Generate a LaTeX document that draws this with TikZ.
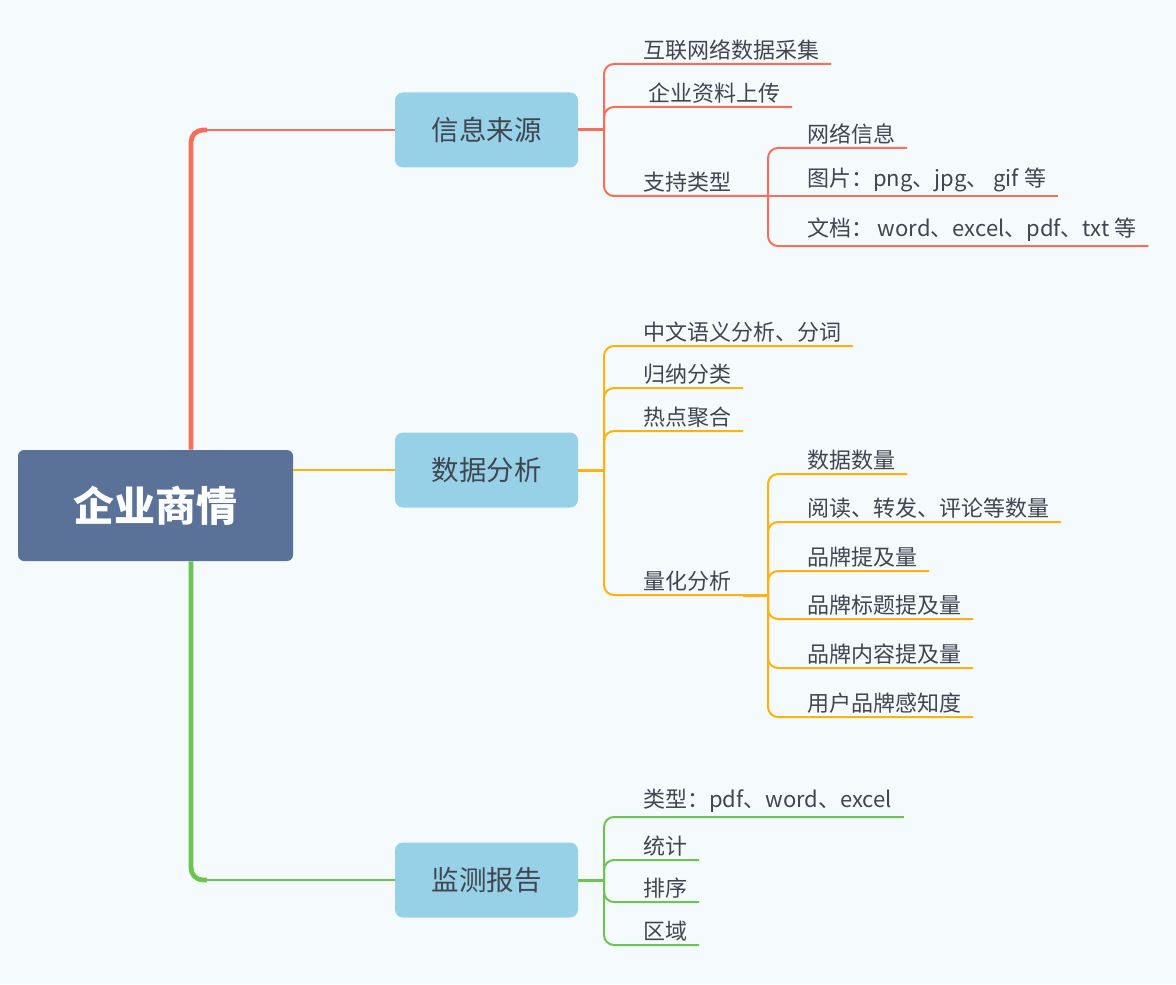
\documentclass[tikz,border=0pt]{standalone}
\usepackage{fontspec}
\setmainfont{Noto Sans CJK SC}
\usetikzlibrary{calc}

\definecolor{bgc}{HTML}{F5FAFD}
\definecolor{rootc}{HTML}{5A7198}
\definecolor{topicc}{HTML}{96D1E7}
\definecolor{inkc}{HTML}{3F4650}
\definecolor{redc}{HTML}{F76E5C}
\definecolor{orac}{HTML}{FDB20F}
\definecolor{grnc}{HTML}{6CC551}

\tikzset{
  rootbox/.style={fill=rootc, rounded corners=3pt, text=white, inner sep=0,
    minimum width=137.5pt, minimum height=55.5pt,
    font=\fontsize{20.5}{24}\selectfont\bfseries},
  topicbox/.style={fill=topicc, rounded corners=4pt, text=inkc, inner sep=0,
    minimum width=91.5pt, minimum height=37.5pt,
    font=\fontsize{13.75}{16}\selectfont},
  leaf/.style={anchor=south west, text=inkc, inner xsep=0, inner ysep=2pt,
    outer sep=0, font=\fontsize{11}{13}\selectfont},
  trunk/.style={line width=2.4pt, rounded corners=6pt},
  branch/.style={line width=1.2pt},
  stem/.style={line width=1.5pt},
  twig/.style={line width=1pt, rounded corners=5pt},
}

\begin{document}
\begin{tikzpicture}[x=0.5pt, y=-0.5pt]
  \fill[bgc] (0,0) rectangle (1176,984);
  \useasboundingbox (0,0) rectangle (1176,984);

  \node[rootbox] (root) at (155.5,505.5) {企业商情};
  \node[topicbox] (src) at (486.5,130) {信息来源};
  \node[topicbox] (ana) at (486.5,470) {数据分析};
  \node[topicbox] (rep) at (486.5,880) {监测报告};

  \coordinate (trunk) at (191,505.5);
  \draw[redc, trunk] (trunk |- root.north) |- ($(trunk |- src.west)+(16,0)$) coordinate (c1);
  \draw[redc, branch] (c1) -- (src.west);
  \draw[orac, line width=1pt] (ana.west -| root.east) -- (ana.west);
  \draw[grnc, trunk] (trunk |- root.south) |- ($(trunk |- rep.west)+(16,0)$) coordinate (c3);
  \draw[grnc, branch] (c3) -- (rep.west);

  % sources
  \coordinate (b1) at (604,130);
  \coordinate (b13) at (768,196);
  \draw[redc, stem] (src.east) -- (b1);
  \node[leaf] (s1) at (643,64) {互联网络数据采集};
  \node[leaf] (s2) at (648,107) {企业资料上传};
  \node[leaf] (s3) at (643,196) {支持类型};
  \node[leaf] (s31) at (807,148) {网络信息};
  \node[leaf] (s32) at (807,196) {图片：png、jpg、 gif 等};
  \node[leaf] (s33) at (807,246) {文档： word、excel、pdf、txt 等};
  \foreach \n in {s1,s2}
    \draw[redc, twig] (b1) |- (\n.south west) -- ([xshift=6pt]\n.south east);
  \draw[redc, twig] (b1) |- (s3.south west) -- (b13);
  \draw[redc, twig] (b13) |- (s31.south west) -- ([xshift=6pt]s31.south east);
  \draw[redc, twig] (b13) -- (s32.south west) -- ([xshift=6pt]s32.south east);
  \draw[redc, twig] (b13) |- (s33.south west) -- ([xshift=6pt]s33.south east);

  % analysis
  \coordinate (b2) at (604,470);
  \coordinate (b24) at (768,595);
  \draw[orac, stem] (ana.east) -- (b2);
  \node[leaf] (a1) at (643,346) {中文语义分析、分词};
  \node[leaf] (a2) at (643,388) {归纳分类};
  \node[leaf] (a3) at (643,431) {热点聚合};
  \node[leaf] (a4) at (643,595) {量化分析};
  \node[leaf] (a41) at (807,474) {数据数量};
  \node[leaf] (a42) at (807,522) {阅读、转发、评论等数量};
  \node[leaf] (a43) at (807,571) {品牌提及量};
  \node[leaf] (a44) at (807,619) {品牌标题提及量};
  \node[leaf] (a45) at (807,668) {品牌内容提及量};
  \node[leaf] (a46) at (807,717) {用户品牌感知度};
  \foreach \n in {a1,a2,a3}
    \draw[orac, twig] (b2) |- (\n.south west) -- ([xshift=6pt]\n.south east);
  \draw[orac, twig] (b2) |- (a4.south west) -- ([xshift=6pt]a4.south east) coordinate (a4e);
  \draw[orac, stem] (a4e) -- (b24);
  \foreach \n in {a41,a42,a43,a44,a45,a46}
    \draw[orac, twig] (b24) |- (\n.south west) -- ([xshift=6pt]\n.south east);

  % reports
  \coordinate (b3) at (604,880);
  \draw[grnc, stem] (rep.east) -- (b3);
  \node[leaf] (r1) at (643,817) {类型：pdf、word、excel};
  \node[leaf] (r2) at (643,860) {统计};
  \node[leaf] (r3) at (643,902) {排序};
  \node[leaf] (r4) at (643,945) {区域};
  \foreach \n in {r1,r2,r3,r4}
    \draw[grnc, twig] (b3) |- (\n.south west) -- ([xshift=6pt]\n.south east);
\end{tikzpicture}
\end{document}
